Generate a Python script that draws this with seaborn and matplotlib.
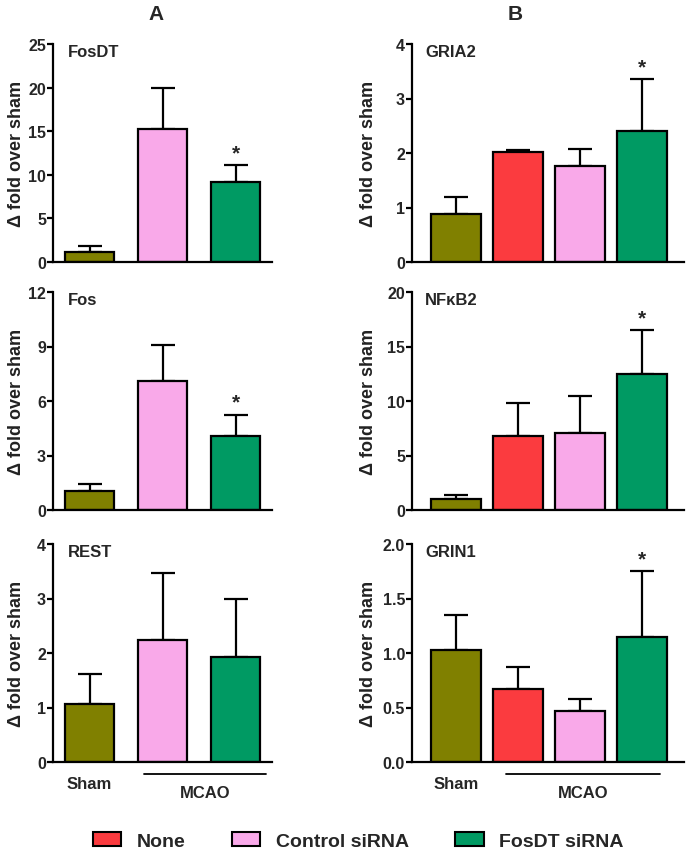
import matplotlib
matplotlib.use("Agg")
import matplotlib.pyplot as plt
from matplotlib.patches import Patch
import matplotlib.transforms as mtransforms
import seaborn as sns

sns.set_theme(style="ticks")
plt.rcParams['font.family'] = ['Liberation Sans', 'DejaVu Sans']
plt.rcParams['font.weight'] = 'bold'

# ---- data ----
groups_a = ["Sham", "Control siRNA", "FosDT siRNA"]
groups_b = ["Sham", "None", "Control siRNA", "FosDT siRNA"]

fosdt_mean = [1.2, 15.3, 9.2]
fosdt_err = [0.6, 4.7, 1.9]
fos_mean = [1.05, 7.1, 4.1]
fos_err = [0.4, 2.0, 1.15]
rest_mean = [1.07, 2.23, 1.93]
rest_err = [0.55, 1.24, 1.07]

gria2_mean = [0.88, 2.02, 1.76, 2.40]
gria2_err = [0.32, 0.04, 0.32, 0.96]
nfkb2_mean = [1.0, 6.8, 7.1, 12.5]
nfkb2_err = [0.4, 3.0, 3.4, 4.0]
grin1_mean = [1.03, 0.67, 0.47, 1.15]
grin1_err = [0.32, 0.20, 0.11, 0.60]

colors = {"Sham": "#808000", "None": "#fb3b3f", "Control siRNA": "#f9a9e9", "FosDT siRNA": "#009a63"}

panels = [
    # (gene, groups, mean, err, ylim, ticks, ticklabels, star_index, col, row)
    ("FosDT", groups_a, fosdt_mean, fosdt_err, 25, [0, 5, 10, 15, 20, 25], None, 2, 0, 0),
    ("Fos", groups_a, fos_mean, fos_err, 12, [0, 3, 6, 9, 12], None, 2, 0, 1),
    ("REST", groups_a, rest_mean, rest_err, 4, [0, 1, 2, 3, 4], None, None, 0, 2),
    ("GRIA2", groups_b, gria2_mean, gria2_err, 4, [0, 1, 2, 3, 4], None, 3, 1, 0),
    ("NF\u03baB2", groups_b, nfkb2_mean, nfkb2_err, 20, [0, 5, 10, 15, 20], None, 3, 1, 1),
    ("GRIN1", groups_b, grin1_mean, grin1_err, 2, [0, 0.5, 1.0, 1.5, 2.0], ["0.0", "0.5", "1.0", "1.5", "2.0"], 3, 1, 2),
]

W, H = 686, 853
fig = plt.figure(figsize=(W / 100, H / 100), dpi=100)

col_geo = {0: (53, 272, -0.5, 2.5), 1: (412, 684, -0.71, 3.68)}
row_top = [45, 293, 545]
ax_h = 218

for gene, groups, mean, err, ymax, ticks, tlabels, star, col, row in panels:
    l, r, xl, xr = col_geo[col]
    top = row_top[row]
    ax = fig.add_axes([l / W, 1 - (top + ax_h) / H, (r - l) / W, ax_h / H])
    width = 0.67 if col == 0 else 0.8
    sns.barplot(x=groups, y=mean, hue=groups, palette=colors, order=groups,
                width=width, edgecolor="black", linewidth=1.6, legend=False,
                ax=ax, saturation=1)
    xs = list(range(len(groups)))
    ax.errorbar(xs, mean, yerr=[[0] * len(mean), err], fmt="none", ecolor="black",
                elinewidth=1.6, capsize=8.5, capthick=1.6, zorder=0.5)
    ax.set_xlim(xl, xr)
    ax.set_ylim(0, ymax)
    ax.set_yticks(ticks)
    if tlabels:
        ax.set_yticklabels(tlabels)
    ax.set_xticks([])
    ax.set_xlabel("")
    sns.despine(ax=ax)
    for s in ["left", "bottom"]:
        ax.spines[s].set_linewidth(1.6)
        ax.spines[s].set_color("black")
    ax.tick_params(axis="y", length=4, width=1.6, labelsize=11.5, color="black", pad=1)
    for t in ax.get_yticklabels():
        t.set_fontweight("bold")
    ax.set_ylabel("\u0394 fold over sham", fontsize=13, fontweight="bold", color="#222222")
    if col == 0:
        ax.yaxis.set_label_coords(-0.13, 0.5)
    else:
        ax.yaxis.set_label_coords(-0.13, 0.5)
    gx = 0.068 if col == 0 else 0.048
    ax.text(gx, 0.965, gene, transform=ax.transAxes, fontsize=12, fontweight="bold",
            va="center", ha="left")
    if star is not None:
        ax.annotate("*", xy=(xs[star], mean[star] + err[star]), xytext=(0, 2),
                    textcoords="offset points", ha="center", va="bottom",
                    fontsize=15, fontweight="bold")
    if row == 2:
        trans = mtransforms.blended_transform_factory(ax.transData, ax.transAxes)
        ax.text(0, -0.097, "Sham", transform=trans, ha="center", va="center",
                fontsize=12, fontweight="bold")
        if col == 0:
            x0, x1 = 0.75, 2.42
        else:
            x0, x1 = 0.8, 3.3
        ax.plot([x0, x1], [-0.055, -0.055], transform=trans, color="black",
                lw=1.3, clip_on=False)
        ax.text((x0 + x1) / 2, -0.138, "MCAO", transform=trans, ha="center",
                va="center", fontsize=12, fontweight="bold")
    if row == 0:
        ax.text(0.47 if col == 0 else 0.38, 1 + 30 / ax_h,
                "A" if col == 0 else "B", transform=ax.transAxes, ha="center",
                va="center", fontsize=15, fontweight="bold")

handles = [Patch(facecolor=colors[k], edgecolor="black", linewidth=1.5, label=k)
           for k in ["None", "Control siRNA", "FosDT siRNA"]]
fig.legend(handles=handles, loc="center", bbox_to_anchor=(0.522, 1 - 842 / H), ncol=3,
           frameon=False, prop={"weight": "bold", "size": 14}, handlelength=1.45,
           handleheight=0.75, columnspacing=2.4, handletextpad=0.8,
           borderpad=0.1)

fig.savefig("out.png", dpi=100)
